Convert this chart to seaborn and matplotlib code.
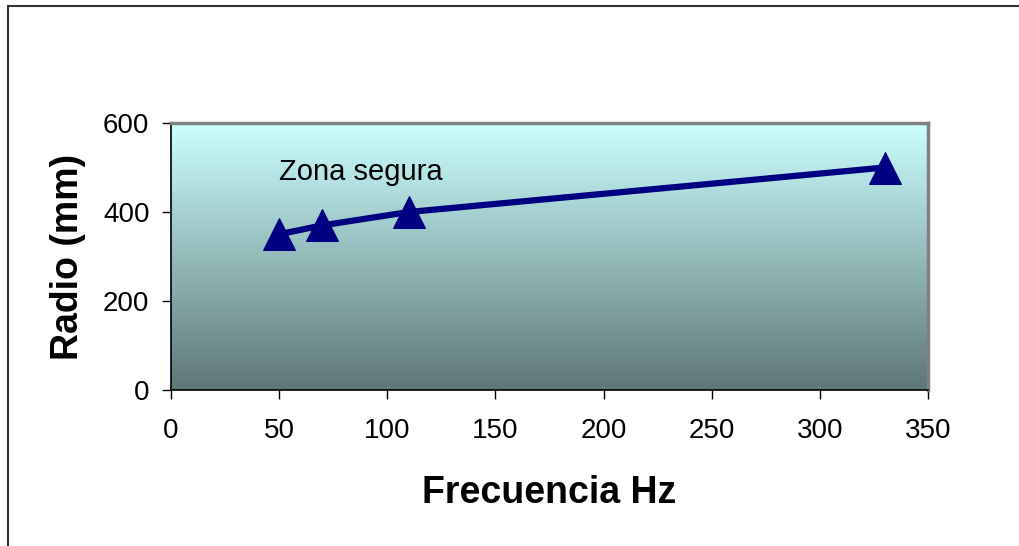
import numpy as np
import pandas as pd
import matplotlib
matplotlib.use("Agg")
import matplotlib.pyplot as plt
import seaborn as sns
from matplotlib.colors import LinearSegmentedColormap
from matplotlib.lines import Line2D

frecuencia = [50, 70, 110, 330]
radio = [350, 370, 400, 500]
x_ticks = [0, 50, 100, 150, 200, 250, 300, 350]
y_ticks = [0, 200, 400, 600]

sns.set_style("white")
plt.rcParams['font.family'] = ['Liberation Sans', 'DejaVu Sans']
plt.rcParams['text.color'] = 'black'
plt.rcParams['axes.labelcolor'] = 'black'
plt.rcParams['xtick.color'] = 'black'
plt.rcParams['ytick.color'] = 'black'

df = pd.DataFrame({"Frecuencia": frecuencia, "Radio": radio})

fig = plt.figure(figsize=(10.19, 5.46), dpi=100)
ax = fig.add_axes([171/1019, 1-390/546, (928-171)/1019, (390-123)/546])

# gradient background
cmap = LinearSegmentedColormap.from_list("bg", ["#5E7676", "#CCFFFF"])
grad = np.linspace(0, 1, 256).reshape(-1, 1)
ax.imshow(grad, aspect="auto", cmap=cmap, origin="lower",
          extent=[0, 350, 0, 600], zorder=0)

sns.lineplot(data=df, x="Frecuencia", y="Radio", ax=ax, color="#000080",
             linewidth=4.5, marker="^", markersize=23, markeredgecolor="#000080",
             zorder=3)

ax.set_xlim(0, 350)
ax.set_ylim(0, 600)
ax.set_xticks(x_ticks)
ax.set_yticks(y_ticks)
ax.tick_params(axis="both", labelsize=20, direction="out", length=6.5, width=1,
               color="black", labelcolor="black", left=True, bottom=True)
ax.tick_params(axis="x", pad=14)
ax.tick_params(axis="y", pad=9)

for s in ["top", "right"]:
    ax.spines[s].set_color("#808080")
    ax.spines[s].set_linewidth(2.5)
for s in ["left", "bottom"]:
    ax.spines[s].set_color("black")
    ax.spines[s].set_linewidth(1.2)

ax.set_xlabel("Frecuencia Hz", fontsize=27, fontweight="bold", labelpad=22,
              color="black")
ax.set_ylabel("Radio (mm)", fontsize=27, fontweight="bold", labelpad=12,
              color="black")

ax.text(50, 490, "Zona segura", fontsize=21, color="black", va="center",
        zorder=4)

# outer chart frame (top and left)
fig.add_artist(Line2D([8/1019, 8/1019], [0, 1-6/546], transform=fig.transFigure,
                      color="#333333", linewidth=1.5))
fig.add_artist(Line2D([8/1019, 1], [1-6/546, 1-6/546], transform=fig.transFigure,
                      color="#333333", linewidth=1.5))

fig.savefig("out.png", dpi=100, facecolor="white")
